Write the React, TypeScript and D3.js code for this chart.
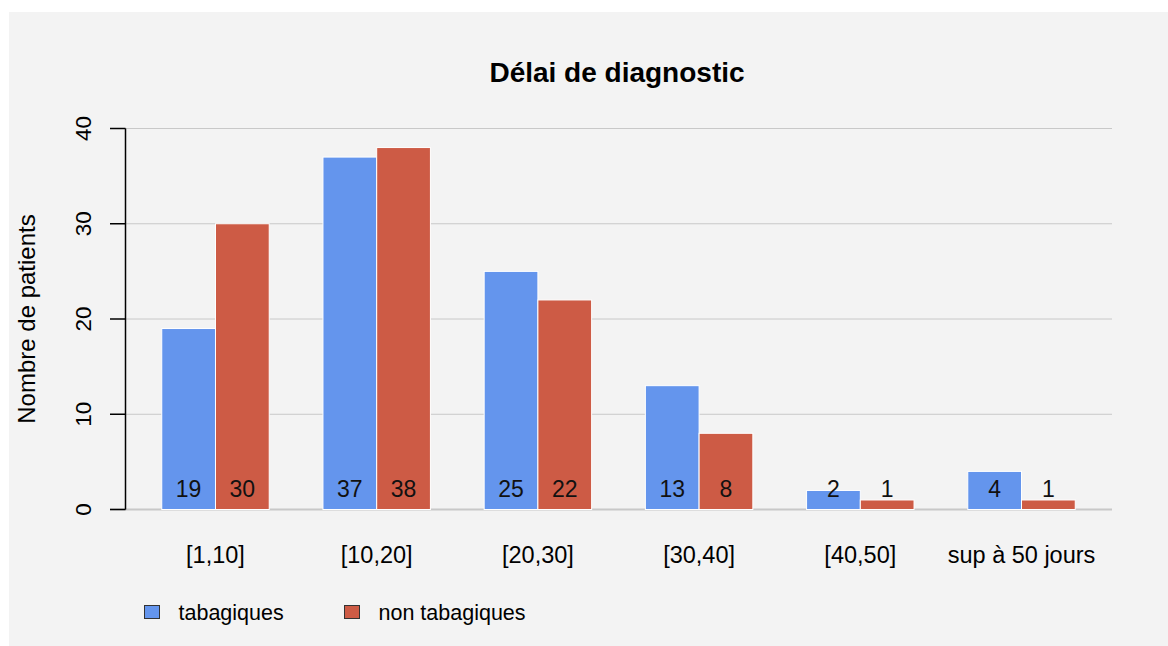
import React from "react";
import * as d3 from "d3";

const categories = ["[1,10]", "[10,20]", "[20,30]", "[30,40]", "[40,50]", "sup à 50 jours"];
const seriesNames = ["tabagiques", "non tabagiques"];
const tabagiques = [19, 37, 25, 13, 2, 4];
const nonTabagiques = [30, 38, 22, 8, 1, 1];
const yTicks = [0, 10, 20, 30, 40];
const colors = ["#6495ED", "#CD5B45"];

const W = 1168;
const H = 646;
const FONT = "'Liberation Sans', Arial, sans-serif";

export default function App() {
  const x = d3
    .scaleBand<string>()
    .domain(categories)
    .range([125, 1112])
    .paddingInner(1 / 3)
    .paddingOuter(0.228);
  const xs = d3.scaleBand<string>().domain(seriesNames).range([0, x.bandwidth()]);
  const y = d3.scaleLinear().domain([0, 40]).range([509.5, 128.5]);
  const series = [tabagiques, nonTabagiques];

  return (
    <svg
      width={W}
      height={H}
      style={{ position: "absolute", left: 0, top: 0 }}
      fontFamily={FONT}
    >
      <rect x={0} y={0} width={W} height={H} fill="#ffffff" />
      <rect x={9} y={12} width={W - 9} height={H - 12} fill="#f3f3f3" />
      <text x={617} y={82} textAnchor="middle" fontSize={28} fontWeight="bold" fill="#000">
        Délai de diagnostic
      </text>
      {/* gridlines */}
      {yTicks.map((t) => (
        <line
          key={"g" + t}
          x1={t === 0 ? 110 : 125}
          x2={1112}
          y1={y(t)}
          y2={y(t)}
          stroke="#c8c8c8"
          strokeWidth={t === 0 ? 2 : 1}
        />
      ))}
      {/* bars */}
      {categories.map((c, i) => (
        <g key={c} transform={`translate(${x(c)},0)`}>
          {seriesNames.map((s, j) => {
            const v = series[j][i];
            const bx = xs(s)!;
            return (
              <g key={s}>
                <rect
                  x={bx}
                  y={y(v)}
                  width={xs.bandwidth()}
                  height={y(0) - y(v)}
                  fill={colors[j]}
                  stroke="#ffffff"
                  strokeWidth={1}
                />
                <text
                  x={bx + xs.bandwidth() / 2}
                  y={497}
                  textAnchor="middle"
                  fontSize={23}
                  fill="#111"
                >
                  {v}
                </text>
              </g>
            );
          })}
          <text x={x.bandwidth() / 2} y={563} textAnchor="middle" fontSize={23.5} fill="#000">
            {c}
          </text>
        </g>
      ))}
      {/* y axis */}
      <line x1={125.5} x2={125.5} y1={y(40)} y2={y(0)} stroke="#000" strokeWidth={1.5} />
      {yTicks.map((t) => (
        <g key={"t" + t}>
          <line x1={110} x2={125.5} y1={y(t)} y2={y(t)} stroke="#000" strokeWidth={1.5} />
          <text
            transform={`translate(91,${y(t)}) rotate(-90)`}
            textAnchor="middle"
            fontSize={22.5}
            fill="#000"
          >
            {t}
          </text>
        </g>
      ))}
      <text
        transform={`translate(35,319) rotate(-90)`}
        textAnchor="middle"
        fontSize={24}
        fill="#000"
      >
        Nombre de patients
      </text>
      {/* legend */}
      {seriesNames.map((s, j) => {
        const lx = [144.5, 344.5][j];
        return (
          <g key={"l" + s}>
            <rect x={lx} y={605.5} width={15} height={13} fill={colors[j]} stroke="#333" strokeWidth={1} />
            <text x={lx + 34} y={620} fontSize={21.5} fill="#000">
              {s}
            </text>
          </g>
        );
      })}
    </svg>
  );
}
